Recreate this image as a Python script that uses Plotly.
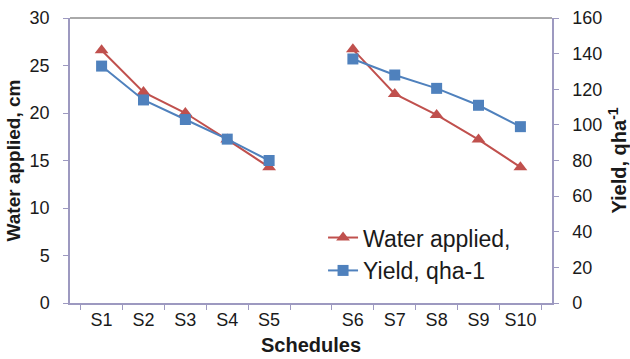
import plotly.graph_objects as go

categories = ["S1", "S2", "S3", "S4", "S5", " ", "S6", "S7", "S8", "S9", "S10"]
water_applied = [26.6, 22.2, 20.0, 17.2, 14.3, None, 26.7, 22.0, 19.8, 17.2, 14.3]
yield_qha = [133, 114, 103, 92, 80, None, 137, 128, 120.5, 111, 99]

red = "#C0504D"
blue = "#4F81BD"
axis_col = "#9D99C0"
font_fam = "Liberation Sans, Arial, sans-serif"

fig = go.Figure()
fig.add_trace(go.Scatter(
    x=categories, y=water_applied, name="Water applied,",
    mode="lines+markers", connectgaps=False,
    line=dict(color=red, width=2),
    marker=dict(symbol="triangle-up", size=12, color=red),
))
fig.add_trace(go.Scatter(
    x=categories, y=yield_qha, name="Yield, qha-1", yaxis="y2",
    mode="lines+markers", connectgaps=False,
    line=dict(color=blue, width=2),
    marker=dict(symbol="square", size=11, color=blue),
))

fig.update_layout(
    width=630, height=359,
    margin=dict(l=70, r=78, t=18, b=56),
    paper_bgcolor="white", plot_bgcolor="white",
    font=dict(family=font_fam, size=18, color="#1a1a1a"),
    showlegend=True,
    legend=dict(x=0.525, y=0.305, xanchor="left", yanchor="top",
                font=dict(size=23, color="#1a1a1a"), bgcolor="rgba(0,0,0,0)",
                tracegroupgap=0, itemwidth=30),
    xaxis=dict(type="category", categoryorder="array", categoryarray=categories,
               showgrid=False, showline=True, linecolor=axis_col, linewidth=1.5,
               ticks="outside", ticklen=5, tickcolor=axis_col, tickson="boundaries",
               tickfont=dict(size=18), tickangle=0, automargin=False,
               title=dict(text="<b>Schedules</b>", font=dict(size=20), standoff=9)),
    yaxis=dict(range=[0, 30], dtick=5, showgrid=False, zeroline=False,
               showline=True, linecolor=axis_col, linewidth=1.5,
               ticks="outside", ticklen=5, tickcolor=axis_col, automargin=False,
               tickfont=dict(size=18), ticklabelstandoff=10,
               title=dict(text="<b>Water applied, cm</b>", font=dict(size=19), standoff=4)),
    yaxis2=dict(range=[0, 160], dtick=20, overlaying="y", side="right",
                showgrid=False, zeroline=False, automargin=False,
                showline=True, linecolor=axis_col, linewidth=1.5,
                ticks="outside", ticklen=5, tickcolor=axis_col,
                tickfont=dict(size=18), ticklabelstandoff=10,
                title=dict(text="<b>Yield, qha<sup>-1</sup></b>", font=dict(size=20), standoff=16)),
    shapes=[dict(type="line", xref="paper", yref="paper", x0=0, x1=1, y0=1, y1=1,
                 line=dict(color="#555555", width=1))],
)

fig.write_html("out.html")
